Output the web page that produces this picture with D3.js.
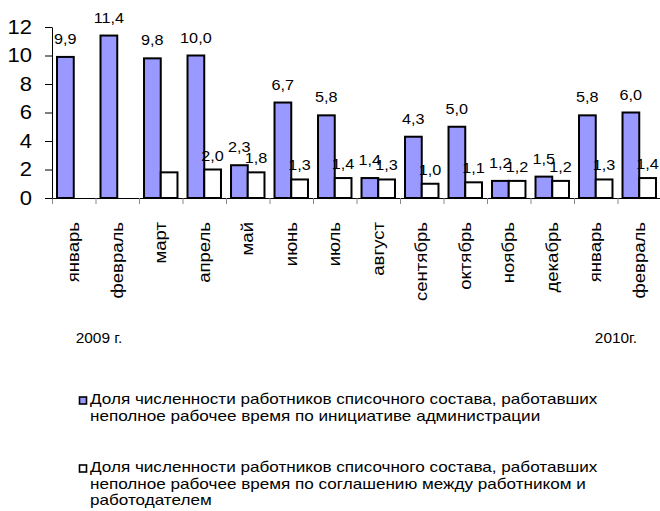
<!DOCTYPE html>
<html>
<head>
<meta charset="utf-8">
<script src="https://cdn.jsdelivr.net/npm/d3@7"></script>
<style>
  body { margin: 0; background: #fff; }
  svg { display: block; font-family: "Liberation Sans", Arial, sans-serif; }
</style>
</head>
<body>
<div id="plot"></div>
<script>
var months = ["январь", "февраль", "март", "апрель", "май", "июнь", "июль", "август",
              "сентябрь", "октябрь", "ноябрь", "декабрь", "январь", "февраль"];
var adminShare = [9.9, 11.4, 9.8, 10.0, 2.3, 6.7, 5.8, 1.4, 4.3, 5.0, 1.2, 1.5, 5.8, 6.0];
var agreementShare = [null, null, 1.8, 2.0, 1.8, 1.3, 1.4, 1.3, 1.0, 1.1, 1.2, 1.2, 1.3, 1.4];
var agreementUnlabelled = [2];   // the March value has no label in the source
var yTicks = [0, 2, 4, 6, 8, 10, 12];
var yearLabels = ["2009 г.", "2010г."];
var legendAdmin = ["Доля численности работников списочного состава, работавших",
                   "неполное рабочее время по инициативе администрации"];
var legendAgreement = ["Доля численности работников списочного состава, работавших",
                       "неполное рабочее время по соглашению между работником и",
                       "работодателем"];

var width = 660, height = 511;
var svg = d3.select("#plot").append("svg")
  .attr("width", width)
  .attr("height", height);

// text in the source is a bit wider than Arial, stretch it along its line
function stretch(sel, k) {
  sel.each(function() {
    var t = d3.select(this);
    var len = this.getComputedTextLength();
    var anchor = window.getComputedStyle(this).textAnchor;
    var w = len * k;
    var x0 = +t.attr("x") || 0;
    if (anchor == "end") x0 -= w;
    else if (anchor == "middle") x0 -= w / 2;
    t.attr("x", x0)
      .attr("text-anchor", "start")
      .attr("textLength", w)
      .attr("lengthAdjust", "spacingAndGlyphs");
  });
}

var idx = d3.range(months.length);
var x = d3.scaleBand().domain(idx).range([52, 661]).padding(0);
var xEdge = d3.scaleLinear().domain([0, months.length]).range(x.range());
var y = d3.scaleLinear().domain([0, 12]).range([198, 27]);

var series = [
  {key: "admin", values: adminShare, fill: "#9999ff", skip: [], lift: 13},
  {key: "agreement", values: agreementShare, fill: "#ffffff", skip: agreementUnlabelled, lift: 9}
];
var x1 = d3.scaleBand().domain(series.map(function(s) { return s.key; }))
  .range([0, x.bandwidth()]).paddingInner(0).paddingOuter(0.3);

// x axis: ticks between categories
svg.append("g")
  .attr("transform", "translate(0," + y(0) + ")")
  .call(d3.axisBottom(xEdge).tickValues(d3.range(months.length + 1)).tickFormat("").tickSize(6).tickSizeOuter(0))
  .call(function(g) {
    g.select(".domain").attr("stroke", "#000");
    g.selectAll(".tick line").attr("stroke", "#888");
  });

// bars
series.forEach(function(s) {
  svg.append("g")
    .selectAll("rect")
    .data(idx.filter(function(i) { return s.values[i] != null; }))
    .enter().append("rect")
    .attr("x", function(i) { return x(i) + x1(s.key); })
    .attr("y", function(i) { return y(s.values[i]); })
    .attr("width", x1.bandwidth())
    .attr("height", function(i) { return y(0) - y(s.values[i]); })
    .attr("fill", s.fill)
    .attr("stroke", "#000")
    .style("stroke-width", "2px");
});

// value labels
var fmt = function(v) { return d3.format(".1f")(v).replace(".", ","); };
series.forEach(function(s) {
  svg.append("g")
    .selectAll("text")
    .data(idx.filter(function(i) { return s.values[i] != null && s.skip.indexOf(i) < 0; }))
    .enter().append("text")
    .attr("x", function(i) { return x(i) + x1(s.key) + x1.bandwidth() / 2; })
    .attr("y", function(i) { return y(s.values[i]) - s.lift; })
    .attr("text-anchor", "middle")
    .style("font-size", "15px")
    .text(function(i) { return fmt(s.values[i]); })
    .call(stretch, 1.08);
});

// y axis
svg.append("g")
  .attr("transform", "translate(52,0)")
  .call(d3.axisLeft(y).tickValues(yTicks).tickSize(7).tickSizeOuter(0).tickPadding(13))
  .call(function(g) {
    g.select(".domain").attr("stroke", "#000");
    g.selectAll(".tick line").attr("stroke", "#000");
    g.selectAll(".tick text")
      .attr("fill", "#000")
      .style("font-size", "20px")
      .style("font-family", "'Liberation Sans', Arial, sans-serif")
      .call(stretch, 1.1);
  });

// month labels, read bottom to top, hanging from y = 222
// stretched with a scale in the rotated frame, so the top end stays put
svg.append("g")
  .selectAll("text")
  .data(idx)
  .enter().append("text")
  .attr("transform", function(i) {
    return "translate(" + (x(i) + x.bandwidth() / 2 + 5.5) + ",222) rotate(-90) scale(1.16,1)";
  })
  .attr("text-anchor", "end")
  .style("font-size", "16px")
  .text(function(i) { return months[i]; });

// year labels
svg.append("g")
  .selectAll("text")
  .data(yearLabels)
  .enter().append("text")
  .attr("x", function(d, i) { return i == 0 ? 99 : 616; })
  .attr("y", 343)
  .attr("text-anchor", "middle")
  .style("font-size", "14px")
  .text(function(d) { return d; })
  .call(stretch, 1.1);

// legend
var legend = [
  {lines: legendAdmin, fill: "#9999ff", top: 397},
  {lines: legendAgreement, fill: "#ffffff", top: 465}
];
legend.forEach(function(l) {
  svg.append("rect")
    .attr("x", 79.5).attr("y", l.top)
    .attr("width", 7).attr("height", 7)
    .attr("fill", l.fill)
    .attr("stroke", "#000")
    .style("stroke-width", "1.6px");
  svg.append("g")
    .selectAll("text")
    .data(l.lines)
    .enter().append("text")
    .attr("x", 90)
    .attr("y", function(d, i) { return l.top + 7 + i * 16.5; })
    .style("font-size", "15px")
    .text(function(d) { return d; })
    .call(stretch, 1.14);
});
</script>
</body>
</html>
